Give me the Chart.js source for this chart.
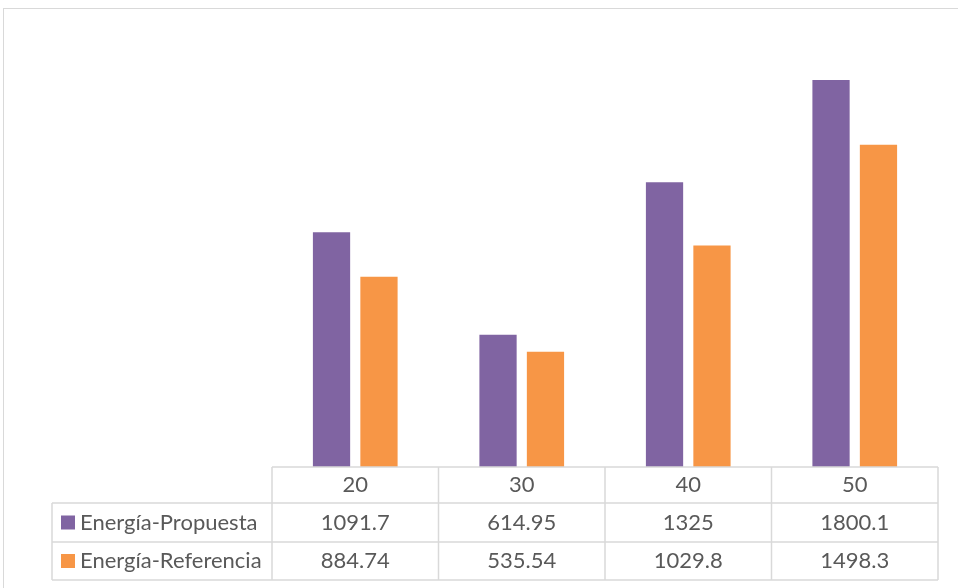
<!DOCTYPE html>
<html>
<head>
<meta charset="utf-8">
<script src="https://cdn.jsdelivr.net/npm/chart.js@4.4.1/dist/chart.umd.min.js"></script>
<style>
  body { margin: 0; background: #fff; }
  #wrap { position: relative; width: 958px; height: 588px; overflow: hidden; }
  #frame { position: absolute; left: 3px; top: 8px; width: 1000px; height: 1000px; border: 1px solid #d9d9d9; box-sizing: border-box; }
  canvas { position: absolute; left: 0; top: 0; }
</style>
</head>
<body>
<div id="wrap">
  <div id="frame"></div>
  <canvas id="chart" width="958" height="588"></canvas>
</div>
<script>
// --- DATA ---
const categories = ['20', '30', '40', '50'];
const seriesNames = ['Energía-Propuesta', 'Energía-Referencia'];
const energiaPropuesta = [1091.7, 614.95, 1325, 1800.1];
const energiaReferencia = [884.74, 535.54, 1029.8, 1498.3];

const colors = ['#8064A2', '#F79646'];
const gridColor = '#d9d9d9';
const textColor = '#595959';
const fontFamily = 'Lato, "Open Sans", sans-serif';

// data table under the plot, columns follow the category scale
const dataTablePlugin = {
    id: 'dataTable',
    afterDraw(chart) {
        const { ctx, chartArea, scales } = chart;
        const xScale = scales.x;
        const colW = chartArea.width / categories.length;
        const rowTop = chartArea.bottom;
        const rows = [rowTop, rowTop + 36, rowTop + 75, rowTop + 113];
        const legendLeft = 52;

        ctx.save();
        ctx.strokeStyle = gridColor;
        ctx.lineWidth = 1.5;
        ctx.beginPath();
        // horizontal lines
        ctx.moveTo(chartArea.left, rows[0]); ctx.lineTo(chartArea.right, rows[0]);
        for (let r = 1; r < rows.length; r++) {
            ctx.moveTo(legendLeft, rows[r]); ctx.lineTo(chartArea.right, rows[r]);
        }
        // vertical lines
        ctx.moveTo(legendLeft, rows[1]); ctx.lineTo(legendLeft, rows[3]);
        for (let i = 0; i <= categories.length; i++) {
            const x = chartArea.left + i * colW;
            ctx.moveTo(x, rows[0]); ctx.lineTo(x, rows[3]);
        }
        ctx.stroke();

        ctx.fillStyle = textColor;
        ctx.font = '22px ' + fontFamily;
        ctx.textBaseline = 'middle';
        ctx.textAlign = 'center';
        categories.forEach((c, i) => {
            const x = xScale.getPixelForValue(i);
            ctx.fillText(c, x, (rows[0] + rows[1]) / 2);
        });
        chart.data.datasets.forEach((ds, d) => {
            const y = (rows[d + 1] + rows[d + 2]) / 2;
            ctx.textAlign = 'center';
            ctx.fillStyle = textColor;
            ds.data.forEach((v, i) => {
                ctx.fillText(String(v), xScale.getPixelForValue(i), y);
            });
            // legend key
            ctx.fillStyle = ds.backgroundColor;
            ctx.fillRect(61, y - 7, 14, 14);
            ctx.fillStyle = textColor;
            ctx.textAlign = 'left';
            ctx.fillText(ds.label, 80, y);
        });
        ctx.restore();
    }
};

new Chart(document.getElementById('chart'), {
    type: 'bar',
    data: {
        labels: categories,
        datasets: [
            { label: seriesNames[0], data: energiaPropuesta, backgroundColor: colors[0] },
            { label: seriesNames[1], data: energiaReferencia, backgroundColor: colors[1] }
        ]
    },
    options: {
        responsive: false,
        animation: false,
        devicePixelRatio: 1,
        layout: { padding: { left: 272, right: 20, top: 37, bottom: 121 } },
        datasets: { bar: { categoryPercentage: 0.57, barPercentage: 0.785 } },
        scales: {
            x: { display: false },
            y: { display: false, min: 0, max: 2000 }
        },
        plugins: { legend: { display: false }, tooltip: { enabled: false } }
    },
    plugins: [dataTablePlugin]
});
</script>
</body>
</html>
